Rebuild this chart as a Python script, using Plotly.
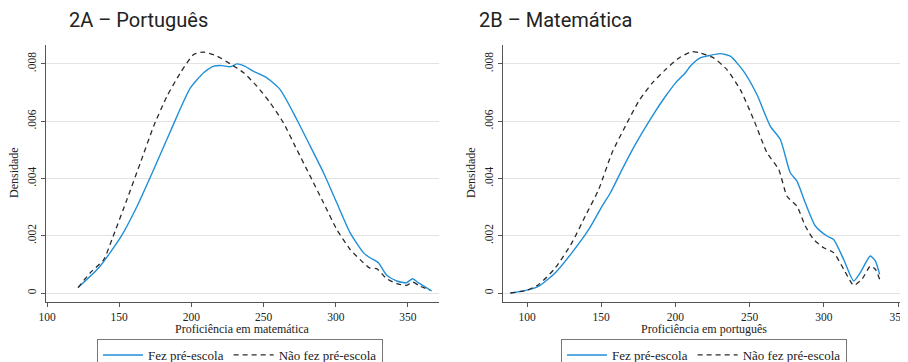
import plotly.graph_objects as go

# ---- Data ----
# Panel 2A - Português (x axis: Proficiência em matemática)
a_fez_x = [121.5, 135.8, 150.8, 162.4, 173.9, 185.5, 199.3, 208.5, 215.5, 221.2, 227.0, 231.6,
           236.2, 243.1, 252.3, 261.5, 273.0, 282.3, 291.5, 300.7, 310.0, 319.1, 323.7, 329.5,
           335.3, 342.2, 349.1, 353.2, 357.1, 366.4]
a_fez_y = [0.00019, 0.00088, 0.00193, 0.00303, 0.00431, 0.00565, 0.00716, 0.00769, 0.00792, 0.00794, 0.00790, 0.00800,
           0.00794, 0.00774, 0.00751, 0.00710, 0.00606, 0.00513, 0.00420, 0.00315, 0.00210, 0.00141, 0.00123, 0.00106,
           0.00062, 0.00042, 0.00036, 0.00050, 0.00036, 0.00007]
a_nao_x = [121.5, 130.0, 139.3, 145.0, 155.4, 164.7, 173.9, 183.1, 192.4, 201.6, 208.5, 217.8, 227.0,
           236.2, 245.4, 254.6, 263.8, 273.0, 282.3, 291.5, 300.7, 310.0, 319.1, 323.7, 328.3,
           335.3, 342.2, 349.1, 353.2, 358.3, 365.2]
a_nao_y = [0.00019, 0.00071, 0.00117, 0.00187, 0.00327, 0.00455, 0.00583, 0.00687, 0.00769, 0.00833, 0.00841, 0.00827, 0.00800,
           0.00769, 0.00722, 0.00664, 0.00594, 0.00501, 0.00408, 0.00315, 0.00222, 0.00152, 0.00106, 0.00087, 0.00085,
           0.00050, 0.00033, 0.00027, 0.00038, 0.00024, 0.00010]

# Panel 2B - Matemática (x axis: Proficiência em português)
b_fez_x = [88.8, 100.0, 107.9, 119.1, 130.3, 141.6, 150.6, 156.2, 164.0, 173.0, 184.3, 193.3, 200.0, 206.7,
           210.0, 216.7, 223.5, 230.2, 237.0, 246.0, 254.9, 263.9, 270.7, 277.4, 281.9, 287.5, 294.3,
           302.1, 306.6, 313.4, 320.1, 324.6, 331.3, 334.7, 337.6]
b_fez_y = [0.0, 0.00010, 0.00024, 0.00071, 0.00141, 0.00222, 0.00303, 0.00350, 0.00431, 0.00519, 0.00617, 0.00687, 0.00733, 0.00769,
           0.00792, 0.00821, 0.00830, 0.00836, 0.00827, 0.00774, 0.00693, 0.00583, 0.00536, 0.00420, 0.00391, 0.00315, 0.00234,
           0.00199, 0.00187, 0.00117, 0.00042, 0.00071, 0.00129, 0.00112, 0.00065]
b_nao_x = [88.8, 100.0, 107.9, 119.1, 130.3, 139.3, 148.3, 157.3, 166.3, 175.3, 184.3, 193.3, 202.2, 211.2,
           216.7, 225.7, 234.7, 243.7, 252.7, 261.7, 269.6, 275.2, 281.9, 287.5, 293.1, 299.9, 306.6,
           313.4, 320.1, 325.7, 331.3, 334.7, 337.6]
b_nao_y = [0.0, 0.00010, 0.00030, 0.00088, 0.00176, 0.00269, 0.00362, 0.00490, 0.00583, 0.00670, 0.00733, 0.00780, 0.00820, 0.00843,
           0.00838, 0.00821, 0.00780, 0.00710, 0.00606, 0.00490, 0.00431, 0.00338, 0.00303, 0.00234, 0.00187, 0.00158, 0.00141,
           0.00083, 0.00027, 0.00048, 0.00094, 0.00083, 0.00048]

series_names = ["Fez pré-escola", "Não fez pré-escola"]
panel_titles = ["2A – Português", "2B – Matemática"]
x_titles = ["Proficiência em matemática", "Proficiência em português"]
y_title = "Densidade"
y_tickvals = [0, 0.002, 0.004, 0.006, 0.008]
y_ticktext = ["0", ".002", ".004", ".006", ".008"]
x_tickvals = [100, 150, 200, 250, 300, 350]

# ---- Styling ----
OFF = 8                      # page body margin in the browser
W, H = 908 - OFF, 362 - OFF  # figure size so that it fits the window
BLUE = "#1f8fd8"
DARK = "#2b2b2b"
SERIF = "Liberation Serif"
SANS = "Roboto"

def fx(px):
    return (px - OFF) / W

def fy(py):
    return 1 - (py - OFF) / H

fig = go.Figure()

def add_panel(fxs, fys, nxs, nys, xa, ya, leg):
    fig.add_trace(go.Scatter(x=fxs, y=fys, mode="lines", name=series_names[0],
                             line=dict(color=BLUE, width=1.4, shape="spline", smoothing=0.6),
                             xaxis=xa, yaxis=ya, legend=leg))
    fig.add_trace(go.Scatter(x=nxs, y=nys, mode="lines", name=series_names[1],
                             line=dict(color=DARK, width=1.3, dash="5px,4px", shape="spline", smoothing=0.6),
                             xaxis=xa, yaxis=ya, legend=leg))

add_panel(a_fez_x, a_fez_y, a_nao_x, a_nao_y, "x", "y", "legend")
add_panel(b_fez_x, b_fez_y, b_nao_x, b_nao_y, "x2", "y2", "legend2")

ydom = [fy(302), fy(45)]
axis_common = dict(showline=True, linecolor="#555", linewidth=1, ticks="outside",
                   ticklen=4, tickcolor="#555", zeroline=False, automargin=False,
                   tickfont=dict(family=SERIF, size=11.5, color="#222"))

legend_common = dict(orientation="h", y=fy(339), xanchor="left", yanchor="top",
                     bordercolor="#777", borderwidth=1, bgcolor="white",
                     font=dict(family=SERIF, size=13, color="#222"), itemwidth=40)

fig.update_layout(
    width=W, height=H,
    margin=dict(l=0, r=0, t=0, b=0, autoexpand=False),
    paper_bgcolor="white", plot_bgcolor="white",
    showlegend=True,
    xaxis=dict(domain=[fx(46), fx(439)], range=[99.3, 371.5], tickvals=x_tickvals,
               showgrid=False, anchor="y", **axis_common),
    yaxis=dict(domain=ydom, range=[-0.000314, 0.00866], tickvals=y_tickvals, ticktext=y_ticktext,
               tickangle=-90, showgrid=True, gridcolor="#e3e3e3", gridwidth=1, anchor="x",
               **axis_common),
    xaxis2=dict(domain=[fx(503), fx(905)], range=[83.8, 354.7], tickvals=x_tickvals,
                showgrid=False, anchor="y2", **axis_common),
    yaxis2=dict(domain=ydom, range=[-0.000314, 0.00866], tickvals=y_tickvals, ticktext=y_ticktext,
                tickangle=-90, showgrid=True, gridcolor="#e3e3e3", gridwidth=1, anchor="x2",
                **axis_common),
    legend=dict(x=fx(97), **legend_common),
    legend2=dict(x=fx(561), **legend_common),
)

annotations = []
for tx, px in zip(panel_titles, [67, 477]):
    annotations.append(dict(text=tx, x=fx(px), y=fy(20), xref="paper", yref="paper",
                            xanchor="left", yanchor="middle", showarrow=False,
                            font=dict(family=SANS, size=20, color="#222")))
for tx, cx in zip(x_titles, [(46 + 439) / 2, (503 + 905) / 2]):
    annotations.append(dict(text=tx, x=fx(cx), y=fy(329), xref="paper", yref="paper",
                            xanchor="center", yanchor="middle", showarrow=False,
                            font=dict(family=SERIF, size=12, color="#222")))
for cx in [14, 471]:
    annotations.append(dict(text=y_title, x=fx(cx), y=fy(173), xref="paper", yref="paper",
                            xanchor="center", yanchor="middle", showarrow=False, textangle=-90,
                            font=dict(family=SERIF, size=12, color="#222")))
fig.update_layout(annotations=annotations)

fig.write_html("out.html")
